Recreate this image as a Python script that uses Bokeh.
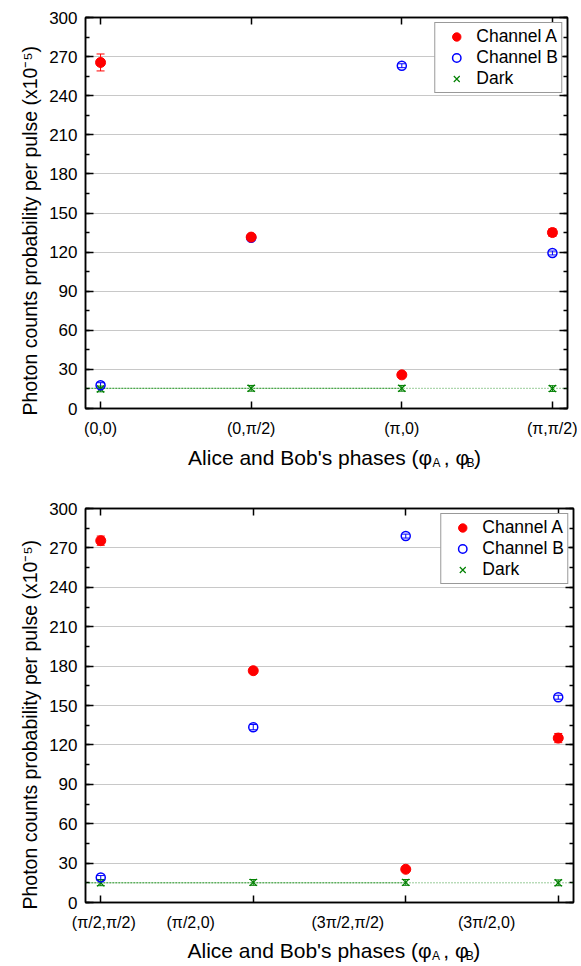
from bokeh.plotting import figure
from bokeh.models import (ColumnDataSource, Whisker, TeeHead, LinearAxis, FixedTicker,
                          SingleIntervalTicker, Range1d, Legend, LegendItem, Span, Title)
from bokeh.layouts import column
from bokeh.embed import file_html
from bokeh.resources import INLINE
from bokeh.core.properties import value

# ---------------- data ----------------
top_labels = ["(0,0)", "(0,π/2)", "(π,0)", "(π,π/2)"]
top_label_pos = [0, 1, 2, 3]
top_a = [265.5, 131.5, 25.8, 135.0]
top_a_err = [6.5, 1.5, 1.0, 3.0]
top_b = [17.8, 131.0, 263.0, 119.3]
top_b_err = [2.0, 1.5, 1.5, 1.5]
top_dark = [15.0, 15.5, 15.5, 15.3]
top_dark_err = [2.2, 2.2, 2.2, 2.2]
top_dark_level = 15.5

bottom_labels = ["(π/2,π/2)", "(π/2,0)", "(3π/2,π/2)", "(3π/2,0)"]
bottom_label_pos = [0.02, 0.59, 1.62, 2.53]
bottom_a = [275.5, 176.5, 25.3, 125.2]
bottom_a_err = [3.5, 1.5, 1.0, 3.5]
bottom_b = [19.0, 133.5, 279.0, 156.3]
bottom_b_err = [1.5, 2.0, 1.5, 1.5]
bottom_dark = [15.0, 15.3, 15.3, 15.0]
bottom_dark_err = [2.2, 2.2, 2.2, 2.2]
bottom_dark_level = 15.0

y_label = "Photon counts probability per pulse (x10\u207b\u2075)"
title_main = ["Alice and Bob's phases (φ", ",\u00a0φ", ")"]
title_subs = ["A", "B"]

FONT = "Liberation Sans"
RED, BLUE, GREEN = "#ff0000", "#0000ff", "#008000"


def make_panel(labels, label_pos, a, a_err, b, b_err, dark, dark_err, level,
               b_left, b_right, b_top, b_bottom, fw, fh, major_is_label):
    x = list(range(len(labels)))
    p = figure(frame_width=fw, frame_height=fh,
               x_range=Range1d(-0.1, 3.1), y_range=Range1d(0, 300),
               output_backend="svg", toolbar_location=None,
               min_border_left=b_left, min_border_right=b_right,
               min_border_top=b_top, min_border_bottom=b_bottom)
    p.background_fill_color = "white"
    p.border_fill_color = "white"
    p.outline_line_color = "black"
    p.outline_line_width = 1.5
    p.xgrid.visible = False
    p.ygrid.grid_line_color = "#c8c8c8"
    p.ygrid.grid_line_width = 1

    xa = p.xaxis[0]
    if major_is_label:
        xa.ticker = FixedTicker(ticks=label_pos)
        xa.major_tick_in = 7
        xa.major_tick_out = 0
    else:
        xa.ticker = FixedTicker(ticks=label_pos, minor_ticks=x)
        xa.major_tick_in = 0
        xa.major_tick_out = 0
        xa.minor_tick_in = 7
        xa.minor_tick_out = 0
        xa.minor_tick_line_color = "black"
        xa.minor_tick_line_width = 1.5
    xa.major_label_overrides = {pos: lab for pos, lab in zip(label_pos, labels)}
    xa.major_label_text_font = FONT
    xa.major_label_text_font_size = "16px"
    xa.major_label_text_color = "black"
    xa.major_label_standoff = 11
    xa.axis_line_color = "black"
    xa.axis_line_width = 1.5
    xa.major_tick_line_color = "black"
    xa.major_tick_line_width = 1.5

    ya = p.yaxis[0]
    ya.ticker = SingleIntervalTicker(interval=30, num_minor_ticks=2)
    ya.major_tick_in = 8
    ya.major_tick_out = 0
    ya.minor_tick_in = 4
    ya.minor_tick_out = 0
    ya.major_tick_line_color = "black"
    ya.minor_tick_line_color = "black"
    ya.major_tick_line_width = 1.5
    ya.minor_tick_line_width = 1.5
    ya.axis_line_color = "black"
    ya.axis_line_width = 1.5
    ya.major_label_text_font = FONT
    ya.major_label_text_font_size = "17px"
    ya.major_label_text_color = "black"
    ya.major_label_standoff = 8

    # y axis title (as a side title so it can sit slightly low, like the reference)
    p.add_layout(Title(text=y_label, align="left", offset=-7, standoff=12,
                       text_font=FONT, text_font_size="19.5px", text_font_style="normal",
                       text_color="black"), "left")

    # mirrored tick-only axes
    top_ax = LinearAxis(ticker=FixedTicker(ticks=x), major_tick_in=7, major_tick_out=0,
                        minor_tick_in=0, minor_tick_out=0,
                        major_label_text_font_size="1px", major_label_text_color=None,
                        major_label_standoff=0,
                        axis_line_color="black", axis_line_width=1.5,
                        major_tick_line_color="black", major_tick_line_width=1.5)
    p.add_layout(top_ax, "above")
    right_ax = LinearAxis(ticker=SingleIntervalTicker(interval=30, num_minor_ticks=2),
                          major_tick_in=8, major_tick_out=0, minor_tick_in=4, minor_tick_out=0,
                          major_label_text_font_size="1px", major_label_text_color=None,
                          major_label_standoff=0,
                          axis_line_color="black", axis_line_width=1.5,
                          major_tick_line_color="black", minor_tick_line_color="black",
                          major_tick_line_width=1.5, minor_tick_line_width=1.5)
    p.add_layout(right_ax, "right")

    src = ColumnDataSource(dict(
        x=x, a=a, a_lo=[v - e for v, e in zip(a, a_err)], a_hi=[v + e for v, e in zip(a, a_err)],
        b=b, b_lo=[v - e for v, e in zip(b, b_err)], b_hi=[v + e for v, e in zip(b, b_err)],
        d=dark, d_lo=[v - e for v, e in zip(dark, dark_err)], d_hi=[v + e for v, e in zip(dark, dark_err)],
    ))

    p.add_layout(Span(location=level, dimension="width", line_color=GREEN,
                      line_alpha=0.8, line_width=1, line_dash="1 2"))
    p.line(x=[p.x_range.start, x[2]], y=[level, level], line_color=GREEN,
           line_alpha=0.7, line_width=1, line_dash="2 1")

    for lo, hi, col in (("a_lo", "a_hi", RED), ("b_lo", "b_hi", BLUE), ("d_lo", "d_hi", GREEN)):
        w = Whisker(base="x", lower=lo, upper=hi, source=src, dimension="height",
                    line_color=col, line_width=1,
                    upper_head=TeeHead(size=8, line_color=col, line_width=1),
                    lower_head=TeeHead(size=8, line_color=col, line_width=1))
        p.add_layout(w)

    rd = p.scatter("x", "d", source=src, marker="x", size=10, line_color=GREEN, line_width=1.2)
    rb = p.scatter("x", "b", source=src, marker="circle", size=9, fill_color=None,
                   line_color=BLUE, line_width=1.5)
    ra = p.scatter("x", "a", source=src, marker="circle", size=10, fill_color=RED,
                   line_color=RED)

    legend = Legend(items=[LegendItem(label="Channel A", renderers=[ra]),
                           LegendItem(label="Channel B", renderers=[rb]),
                           LegendItem(label="Dark", renderers=[rd])],
                    location="top_right", margin=5, padding=3, spacing=0,
                    glyph_width=36, glyph_height=21, label_height=21, label_standoff=2,
                    label_text_font=FONT, label_text_font_size="17.5px",
                    label_text_color="black", label_text_baseline="middle",
                    border_line_color="#333333", border_line_width=1,
                    background_fill_color="white", background_fill_alpha=1)
    p.add_layout(legend)
    return p


def make_title(width, height, xc, yc):
    t = figure(width=width, height=height, x_range=Range1d(0, width), y_range=Range1d(0, height),
               output_backend="svg", toolbar_location=None, x_axis_type=None, y_axis_type=None,
               min_border=0, min_border_left=0, min_border_right=0,
               min_border_top=0, min_border_bottom=0)
    t.outline_line_color = None
    t.xgrid.visible = False
    t.ygrid.visible = False
    t.background_fill_color = "white"
    t.border_fill_color = "white"
    o1 = 89
    t.text(x=[xc + o1, xc + o1 + 14, xc + o1 + 50], y=[yc, yc, yc], text=title_main,
           text_align=["right", "left", "left"], text_baseline="middle",
           text_font=value(FONT), text_font_size="21px", text_color="black")
    t.text(x=[xc + o1 + 0.5, xc + o1 + 41], y=[yc - 6, yc - 6], text=title_subs,
           text_align="left", text_baseline="middle",
           text_font=value(FONT), text_font_size="12px", text_color="black")
    return t


top = make_panel(top_labels, top_label_pos, top_a, top_a_err, top_b, top_b_err,
                 top_dark, top_dark_err, top_dark_level,
                 b_left=85, b_right=10, b_top=17, b_bottom=38, fw=482, fh=391,
                 major_is_label=True)
title1 = make_title(577, 30, 85 + 482 / 2, 19.3)
bottom = make_panel(bottom_labels, bottom_label_pos, bottom_a, bottom_a_err, bottom_b, bottom_b_err,
                    bottom_dark, bottom_dark_err, bottom_dark_level,
                    b_left=81, b_right=10, b_top=32, b_bottom=28, fw=488, fh=394,
                    major_is_label=False)
title2 = make_title(579, 34, 81 + 488 / 2, 17.5)

layout = column(top, title1, bottom, title2)
open("out.html", "w").write(file_html(layout, INLINE))
